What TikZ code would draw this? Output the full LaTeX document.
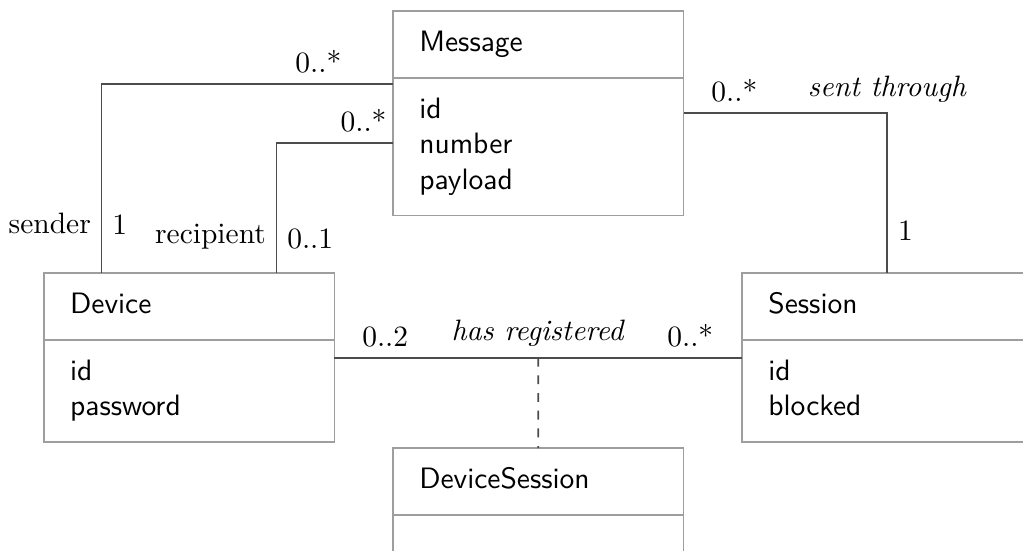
\documentclass[tikz,border=0pt]{standalone}
\usetikzlibrary{positioning}

\definecolor{boxgray}{gray}{0.62}
\definecolor{linegray}{gray}{0.3}

\tikzset{
  classbox/.style={draw=boxgray, line width=0.6pt, outer sep=0pt,
    inner xsep=9pt, inner ysep=5.35pt, text width=80.6pt, align=left,
    font=\sffamily, execute at begin node=\strut, execute at end node=\strut},
  classname/.style={classbox, anchor=north west},
  assoc/.style={draw=linegray, line width=0.6pt},
}

\begin{document}
\begin{tikzpicture}
  \useasboundingbox (0,0) rectangle (12.19,-6.565);

  % classes
  \node[classname] (message) at (4.68,-0.13) {Message};
  \node[classbox, below=0pt of message] (messageattr) {id\\number\\payload};

  \node[classname] (device) at (0.52,-3.25) {Device};
  \node[classbox, below=0pt of device] (deviceattr) {id\\password};

  \node[classname] (session) at (8.84,-3.25) {Session};
  \node[classbox, below=0pt of session] (sessionattr) {id\\blocked};

  \node[classname] (devsession) at (4.68,-5.34) {DeviceSession};
  \node[classbox, below=0pt of devsession] (devsessionattr) {};

  % associations
  \draw[assoc] ([xshift=0.69cm]device.north west) |- ([yshift=-0.07cm]messageattr.north west)
    node[pos=0.074, anchor=south east] (senderrole) {sender}
    node[pos=0.074, anchor=south west] (sendermult) {1}
    node[pos=0.93, anchor=south east] (sentmult) {0..*};
  \draw[assoc] ([xshift=-0.69cm]device.north east) |- ([yshift=-0.775cm]messageattr.north west)
    node[pos=0.05, anchor=south east] (recipientrole) {recipient}
    node[pos=0.05, anchor=south west] (recipientmult) {0..1}
    node[pos=1, anchor=south east, xshift=1.5pt] (receivedmult) {0..*};
  \draw[assoc] ([yshift=-0.42cm]messageattr.north east) -| (session.north)
    node[pos=0.042, anchor=south west] (throughmult) {0..*}
    node[pos=0.5, above] (through) {\textit{sent through}}
    node[pos=0.934, anchor=south west] (sessionmult) {1};
  \draw[assoc] ([yshift=-0.214cm]deviceattr.north east) -- ([yshift=-0.214cm]sessionattr.north west)
    node[pos=0.042, anchor=south west] (devicemult) {0..2}
    node[pos=0.5, above] (registered) {\textit{has registered}}
    coordinate[pos=0.5] (reg)
    node[pos=0.956, anchor=south east] (registeredmult) {0..*};

  % association class
  \draw[assoc, dashed] (reg) -- (devsession.north);
\end{tikzpicture}
\end{document}
